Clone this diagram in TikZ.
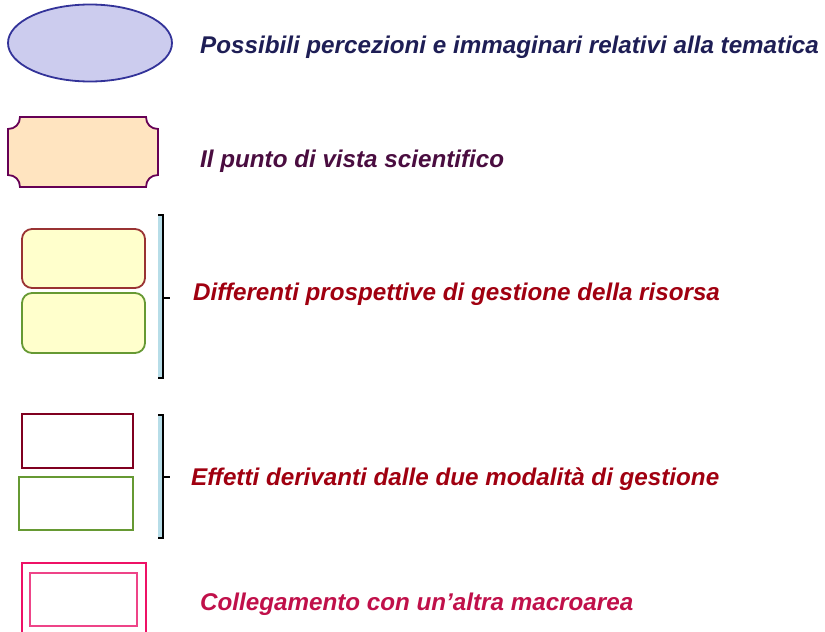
\documentclass[tikz,border=0pt]{standalone}
\usepackage{fontspec}
\setmainfont{Liberation Sans}
\usetikzlibrary{shapes.geometric}

\definecolor{percBordo}{HTML}{333399}
\definecolor{percFondo}{HTML}{CCCCEE}
\definecolor{percTesto}{HTML}{1E1E55}
\definecolor{sciBordo}{HTML}{660055}
\definecolor{sciFondo}{HTML}{FFE4C0}
\definecolor{sciTesto}{HTML}{4A0D40}
\definecolor{gestRosso}{HTML}{993333}
\definecolor{gestVerde}{HTML}{669933}
\definecolor{gestFondo}{HTML}{FFFFCC}
\definecolor{effRosso}{HTML}{800020}
\definecolor{rossoTesto}{HTML}{A00010}
\definecolor{collBordo}{HTML}{EE1166}
\definecolor{collInterno}{HTML}{EE4488}
\definecolor{collTesto}{HTML}{C0104A}
\definecolor{parAzzurro}{HTML}{B7DDE8}

\tikzset{
  legenda/.style={anchor=base west, inner sep=0pt,
    font=\fontsize{24.2}{29}\selectfont\bfseries\itshape},
  riquadro/.style={rectangle, line width=1.8pt, inner sep=0pt},
  parentesi/.style={line width=1.4pt, black},
}

\begin{document}
\begin{tikzpicture}[x=1pt,y=-1pt]
	\useasboundingbox (0,0) rectangle (825,632);

	% percezioni
	\node[ellipse, draw=percBordo, fill=percFondo, line width=1.8pt,
		minimum width=164pt, minimum height=77pt] (percezioni) at (90,43) {};
	\node[legenda, text=percTesto] (tPercezioni) at (200,53.5)
		{Possibili percezioni e immaginari relativi alla tematica};

	% punto di vista scientifico
	\draw[sciBordo, fill=sciFondo, line width=1.8pt]
		(20,117) -- (146,117) .. controls (146,124) and (151,129) .. (158,129)
		-- (158,175) .. controls (151,175) and (146,180) .. (146,187)
		-- (20,187) .. controls (20,180) and (15,175) .. (8,175)
		-- (8,129) .. controls (15,129) and (20,124) .. (20,117) -- cycle;
	\coordinate (scientifico) at (83,152);
	\node[legenda, text=sciTesto] (tScientifico) at (200,167)
		{Il punto di vista scientifico};

	% prospettive di gestione
	\node[riquadro, rounded corners=10pt, draw=gestRosso, fill=gestFondo,
		minimum width=123pt, minimum height=59pt] (gestA) at (83.5,258.5) {};
	\node[riquadro, rounded corners=10pt, draw=gestVerde, fill=gestFondo,
		minimum width=123pt, minimum height=60pt] (gestB) at (83.5,323) {};
	\fill[parAzzurro] (158,215) rectangle (163,378);
	\draw[parentesi] (158,215) -- (163,215) -- (163,378) -- (158,378);
	\draw[parentesi] (163,298) -- (170,298);
	\node[legenda, text=rossoTesto] (tGestione) at (193,300)
		{Differenti prospettive di gestione della risorsa};

	% effetti
	\node[riquadro, draw=effRosso, minimum width=111pt, minimum height=54pt]
		(effA) at (77.5,441) {};
	\node[riquadro, draw=gestVerde, minimum width=114pt, minimum height=53pt]
		(effB) at (76,503.5) {};
	\fill[parAzzurro] (158,415) rectangle (163,538);
	\draw[parentesi] (158,415) -- (163,415) -- (163,538) -- (158,538);
	\draw[parentesi] (163,477) -- (170,477);
	\node[legenda, text=rossoTesto] (tEffetti) at (191,485)
		{Effetti derivanti dalle due modalità di gestione};

	% collegamento
	\node[riquadro, draw=collBordo, minimum width=124pt, minimum height=77pt]
		(collEsterno) at (84,601.5) {};
	\node[riquadro, draw=collInterno, minimum width=107pt, minimum height=53pt]
		(collInterno) at (83.5,599.5) {};
	\node[legenda, text=collTesto] (tCollegamento) at (200,610)
		{Collegamento con un’altra macroarea};
\end{tikzpicture}
\end{document}
